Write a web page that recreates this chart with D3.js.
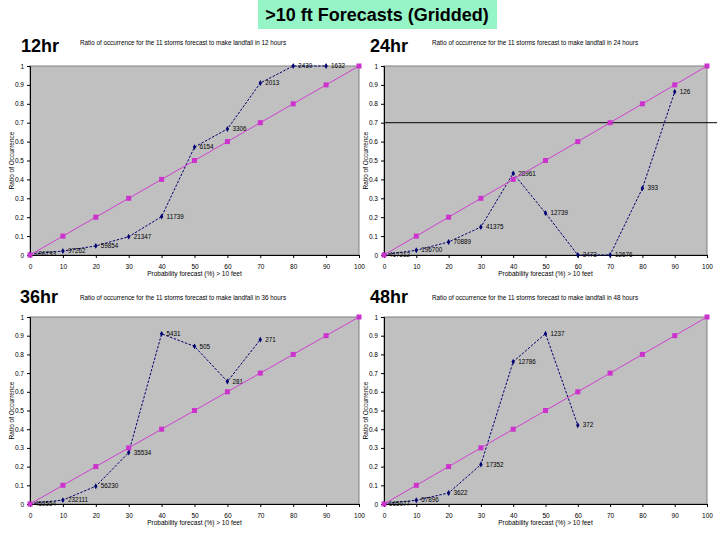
<!DOCTYPE html>
<html>
<head>
<meta charset="utf-8">
<script src="https://cdn.jsdelivr.net/npm/d3@7"></script>
<style>
  body { margin: 0; background: #fff; }
  svg { font-family: "Liberation Sans", Arial, sans-serif; }
</style>
</head>
<body>
<svg width="720" height="540"></svg>
<script>
var probBins = [0, 10, 20, 30, 40, 50, 60, 70, 80, 90, 100];
var yTicks = [0, 0.1, 0.2, 0.3, 0.4, 0.5, 0.6, 0.7, 0.8, 0.9, 1];
var perfectRatio = [0, 0.1, 0.2, 0.3, 0.4, 0.5, 0.6, 0.7, 0.8, 0.9, 1];

var ratio12 = [0.004, 0.021, 0.048, 0.097, 0.203, 0.571, 0.667, 0.91, 1.0, 1.0];
var count12 = ["186793", "97262", "59854", "21347", "11739", "6154", "3306", "2013", "2430", "1632"];

var ratio24 = [0.002, 0.025, 0.069, 0.148, 0.432, 0.222, 0.0, 0.0, 0.353, 0.864];
var count24 = ["417212", "196700", "70889", "41375", "28961", "12739", "3473", "12676", "393", "126"];

var ratio36 = [0.002, 0.021, 0.095, 0.275, 0.91, 0.843, 0.655, 0.879];
var count36 = ["452554", "232111", "56230", "35534", "5431", "505", "281", "271"];

var ratio48 = [0.002, 0.02, 0.059, 0.211, 0.761, 0.911, 0.421];
var count48 = ["165077", "57896", "3622", "17352", "12786", "1237", "372"];

var svg = d3.select("svg");

// title box
svg.append("rect")
  .attr("x", 258).attr("y", 0)
  .attr("width", 239).attr("height", 29)
  .style("fill", "#96f5c6");
svg.append("text")
  .attr("x", 377).attr("y", 21)
  .style("text-anchor", "middle")
  .style("font-size", "18px")
  .style("font-weight", "bold")
  .text(">10 ft Forecasts (Gridded)");

var panels = [
  {hr: "12", ratio: ratio12, count: count12, left: 30, right: 359, top: 66, bottom: 255,
   lx: 21, ly: 52, sx: 80, sy: 45},
  {hr: "24", ratio: ratio24, count: count24, left: 384, right: 707, top: 66, bottom: 255,
   lx: 370, ly: 52, sx: 432, sy: 45, refLine: 0.7},
  {hr: "36", ratio: ratio36, count: count36, left: 30, right: 359, top: 317, bottom: 504,
   lx: 20, ly: 303, sx: 80, sy: 300},
  {hr: "48", ratio: ratio48, count: count48, left: 384, right: 707, top: 317, bottom: 504,
   lx: 370, ly: 303, sx: 432, sy: 300}
];

panels.forEach(function(p) {
  var x = d3.scaleLinear().domain([0, 100]).range([p.left, p.right]);
  var y = d3.scaleLinear().domain([0, 1]).range([p.bottom, p.top]);
  var g = svg.append("g");

  g.append("text")
    .attr("x", p.lx).attr("y", p.ly)
    .style("font-size", "18px")
    .style("font-weight", "bold")
    .text(p.hr + "hr");

  g.append("text")
    .attr("x", p.sx).attr("y", p.sy)
    .style("font-size", "6.3px")
    .text("Ratio of occurrence for the 11 storms forecast to make landfall in " + p.hr + " hours");

  // plot area
  g.append("rect")
    .attr("x", p.left).attr("y", p.top)
    .attr("width", p.right - p.left).attr("height", p.bottom - p.top)
    .style("fill", "#c0c0c0")
    .style("stroke", "#808080")
    .style("stroke-width", 1);

  var xAxis = d3.axisBottom(x).tickValues(probBins).tickSize(3).tickPadding(6)
    .tickFormat(d3.format("d"));
  var yAxis = d3.axisLeft(y).tickValues(yTicks).tickSize(3).tickPadding(3)
    .tickFormat(function(d) { return d === 0 || d === 1 ? d : d3.format(".1f")(d); });

  var xg = g.append("g").attr("transform", "translate(0," + p.bottom + ")").call(xAxis);
  var yg = g.append("g").attr("transform", "translate(" + p.left + ",0)").call(yAxis);
  [xg, yg].forEach(function(ax) {
    ax.selectAll("path, line").attr("stroke", "#000");
    ax.selectAll("text").style("font-size", "6.5px").style("font-family", "Liberation Sans, Arial, sans-serif");
  });

  g.append("text")
    .attr("x", (p.left + p.right) / 2).attr("y", p.bottom + 21)
    .style("text-anchor", "middle")
    .style("font-size", "6.5px")
    .text("Probability forecast (%) > 10 feet");

  g.append("text")
    .attr("transform", "translate(" + (p.left - 16) + "," + ((p.top + p.bottom) / 2) + ") rotate(-90)")
    .style("text-anchor", "middle")
    .style("font-size", "6.5px")
    .text("Ratio of Occurrence");

  if (p.refLine !== undefined) {
    g.append("line")
      .attr("x1", p.left).attr("x2", p.right + 10)
      .attr("y1", y(p.refLine)).attr("y2", y(p.refLine))
      .attr("stroke", "#000").attr("stroke-width", 1);
  }

  // observed ratio
  var obs = p.ratio.map(function(v, i) { return {x: probBins[i], y: v, n: p.count[i]}; });
  var line = d3.line().x(function(d) { return x(d.x); }).y(function(d) { return y(d.y); });

  g.append("path")
    .datum(obs)
    .attr("d", line)
    .attr("fill", "none")
    .attr("stroke", "#000070")
    .attr("stroke-width", 1)
    .attr("stroke-dasharray", "2.5,1.5");

  g.selectAll(".obs").data(obs).enter().append("path")
    .attr("class", "obs")
    .attr("transform", function(d) { return "translate(" + x(d.x) + "," + y(d.y) + ")"; })
    .attr("d", d3.symbol(d3.symbolDiamond, 10))
    .attr("fill", "#000070");

  g.selectAll(".cnt").data(obs).enter().append("text")
    .attr("class", "cnt")
    .attr("x", function(d) { return x(d.x) + 5; })
    .attr("y", function(d) { return y(d.y) + 2.2; })
    .style("font-size", "6.3px")
    .text(function(d) { return d.n; });

  // perfect reliability
  var perf = perfectRatio.map(function(v, i) { return {x: probBins[i], y: v}; });
  g.append("path")
    .datum(perf)
    .attr("d", line)
    .attr("fill", "none")
    .attr("stroke", "#d040d0")
    .attr("stroke-width", 1);

  g.selectAll(".perf").data(perf).enter().append("rect")
    .attr("class", "perf")
    .attr("x", function(d) { return x(d.x) - 2.5; })
    .attr("y", function(d) { return y(d.y) - 2.5; })
    .attr("width", 5).attr("height", 5)
    .attr("fill", "#cc33cc");
});
</script>
</body>
</html>
